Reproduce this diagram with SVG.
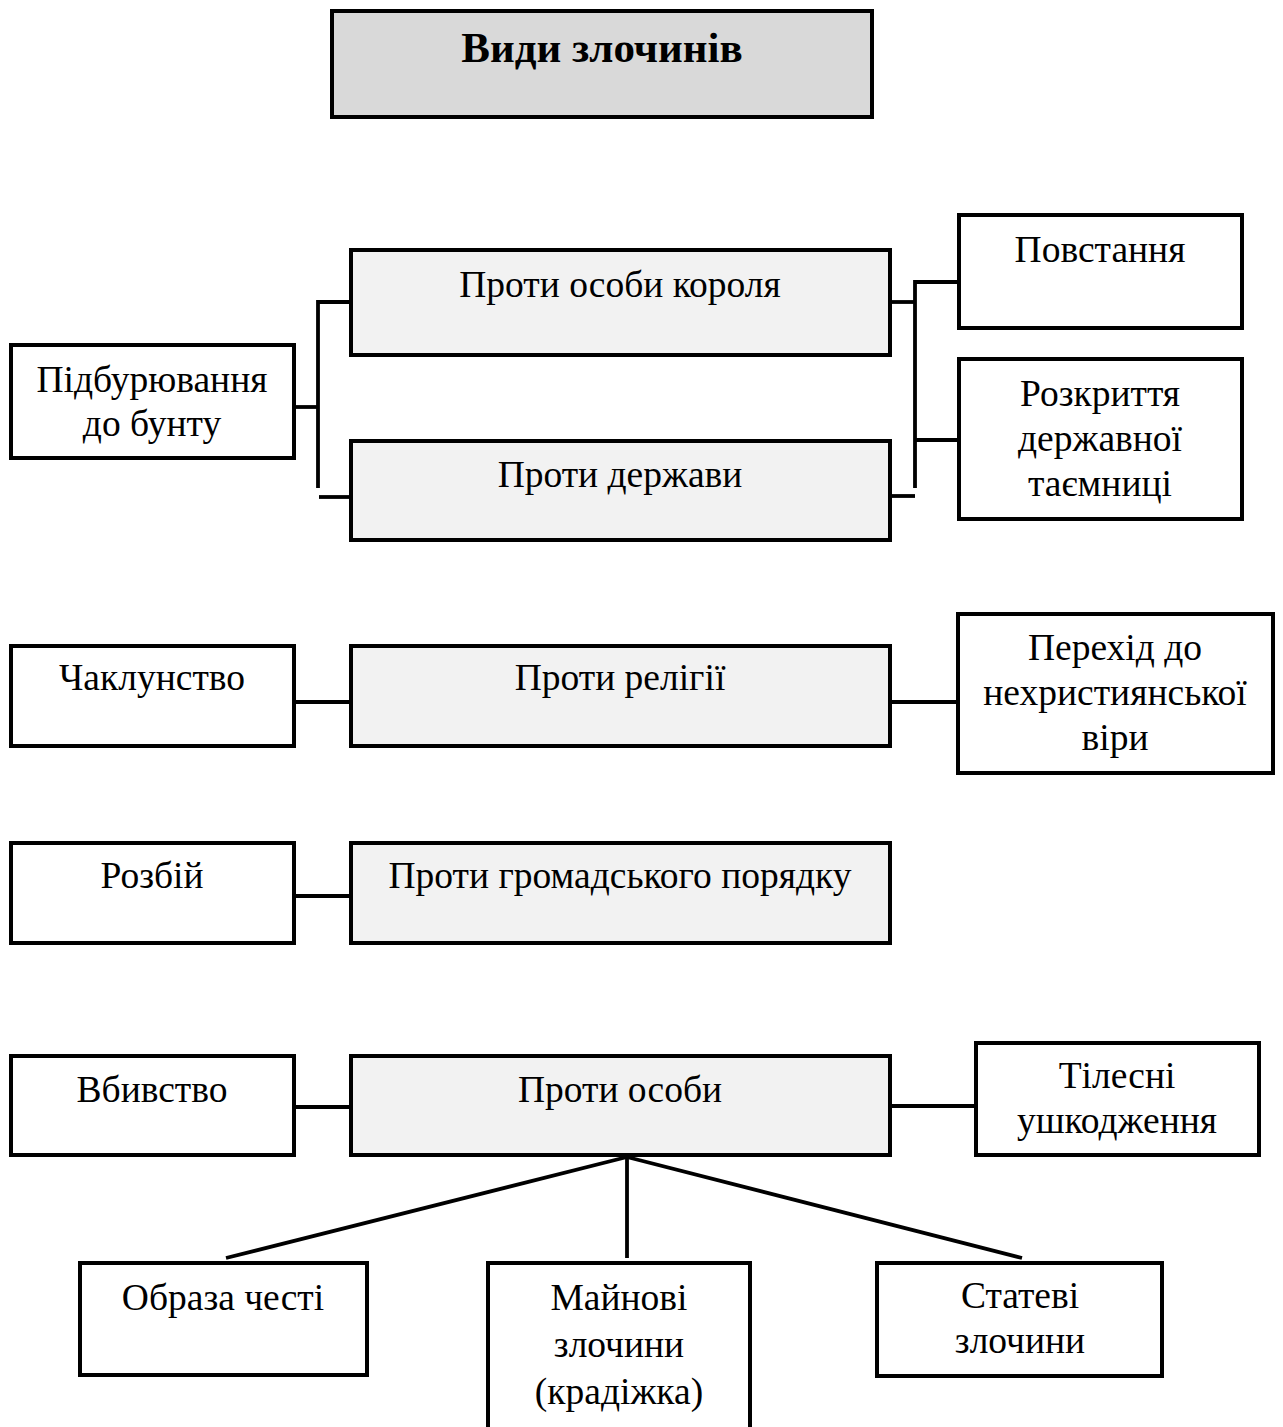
<svg xmlns="http://www.w3.org/2000/svg" width="1283" height="1427" viewBox="0 0 1283 1427">
<style>
.box{fill:#ffffff;stroke:#000;stroke-width:4}
.cat{fill:#f2f2f2;stroke:#000;stroke-width:4}
.top{fill:#d9d9d9;stroke:#000;stroke-width:4}
.t{font-family:"Liberation Serif","Times New Roman",serif;font-size:37.5px;fill:#000;text-anchor:middle}
.tb{font-family:"Liberation Serif","Times New Roman",serif;font-size:43px;font-weight:bold;fill:#000;text-anchor:middle}
.c{fill:none;stroke:#000;stroke-width:3.8}
</style>
<rect x="0" y="0" width="1283" height="1427" fill="#fff"/>
<g id="connectors">
<path class="c" d="M294 407 H318"/>
<path class="c" d="M351 302 H318 V488"/>
<path class="c" d="M319 497 H351"/>
<path class="c" d="M890 302 H915"/>
<path class="c" d="M958 282 H915 V488"/>
<path class="c" d="M915 440 H958"/>
<path class="c" d="M890 496 H915"/>
<path class="c" d="M294 702 H351"/>
<path class="c" d="M890 702 H958"/>
<path class="c" d="M294 896 H351"/>
<path class="c" d="M294 1107 H351"/>
<path class="c" d="M890 1106 H976"/>
<path class="c" d="M627 1157 L226 1258"/>
<path class="c" d="M627 1157 V1258"/>
<path class="c" d="M627 1157 L1022 1258"/>
</g>
<g id="title"><rect class="top" x="332" y="11" width="540" height="106"/><text class="tb" x="602" y="62">Види злочинів</text></g>
<g id="korolya"><rect class="cat" x="351" y="250" width="539" height="105"/><text class="t" x="620" y="297">Проти особи короля</text></g>
<g id="derzhavy"><rect class="cat" x="351" y="441" width="539" height="99"/><text class="t" x="620" y="487">Проти держави</text></g>
<g id="pidburyuvannya"><rect class="box" x="11" y="345" width="283" height="113"/><text class="t" x="152" y="392">Підбурювання</text><text class="t" x="152" y="436">до бунту</text></g>
<g id="povstannya"><rect class="box" x="959" y="215" width="283" height="113"/><text class="t" x="1100" y="262">Повстання</text></g>
<g id="rozkryttya"><rect class="box" x="959" y="359" width="283" height="160"/><text class="t" x="1100" y="406">Розкриття</text><text class="t" x="1100" y="451">державної</text><text class="t" x="1100" y="496">таємниці</text></g>
<g id="chaklunstvo"><rect class="box" x="11" y="646" width="283" height="100"/><text class="t" x="152" y="690">Чаклунство</text></g>
<g id="religii"><rect class="cat" x="351" y="646" width="539" height="100"/><text class="t" x="620" y="690">Проти релігії</text></g>
<g id="perekhid"><rect class="box" x="958" y="614" width="315" height="159"/><text class="t" x="1115" y="660">Перехід до</text><text class="t" x="1115" y="705">нехристиянської</text><text class="t" x="1115" y="750">віри</text></g>
<g id="rozbii"><rect class="box" x="11" y="843" width="283" height="100"/><text class="t" x="152" y="888">Розбій</text></g>
<g id="hromadskoho"><rect class="cat" x="351" y="843" width="539" height="100"/><text class="t" x="620" y="888">Проти громадського порядку</text></g>
<g id="vbyvstvo"><rect class="box" x="11" y="1056" width="283" height="99"/><text class="t" x="152" y="1102">Вбивство</text></g>
<g id="osoby"><rect class="cat" x="351" y="1056" width="539" height="99"/><text class="t" x="620" y="1102">Проти особи</text></g>
<g id="tilesni"><rect class="box" x="976" y="1043" width="283" height="112"/><text class="t" x="1117" y="1088">Тілесні</text><text class="t" x="1117" y="1133">ушкодження</text></g>
<g id="obraza"><rect class="box" x="80" y="1263" width="287" height="112"/><text class="t" x="223" y="1310">Образа честі</text></g>
<g id="majnovi"><rect class="box" x="488" y="1263" width="262" height="190"/><text class="t" x="619" y="1310">Майнові</text><text class="t" x="619" y="1357">злочини</text><text class="t" x="619" y="1404">(крадіжка)</text></g>
<g id="statevi"><rect class="box" x="877" y="1263" width="285" height="113"/><text class="t" x="1020" y="1308">Статеві</text><text class="t" x="1020" y="1353">злочини</text></g>
</svg>
